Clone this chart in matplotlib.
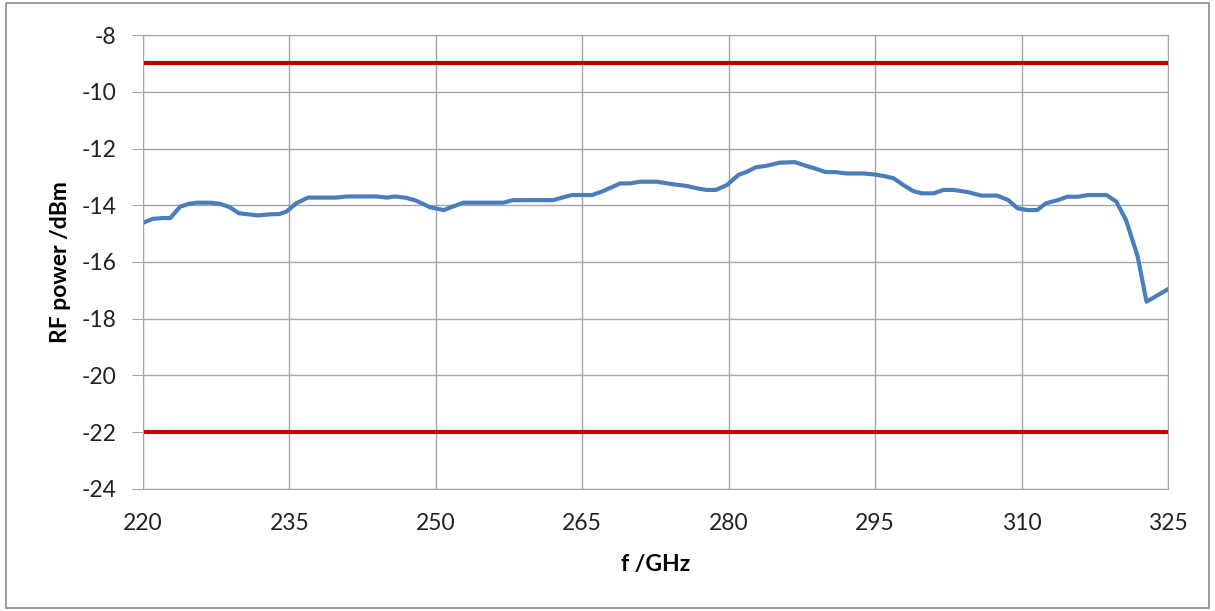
import matplotlib
matplotlib.use("Agg")
import matplotlib.pyplot as plt
from matplotlib.patches import Rectangle

freq = [220.0, 221.0, 222.0, 222.8, 223.8, 224.7, 225.5, 226.9, 227.9, 228.9,
        229.8, 231.8, 233.0, 234.0, 234.7, 235.7, 236.9, 239.8, 240.9, 243.9,
        245.0, 245.8, 247.0, 248.0, 249.4, 250.8, 252.8, 256.9, 257.9, 262.0,
        263.9, 266.0, 267.0, 268.9, 269.9, 270.9, 272.6, 274.3, 275.7, 276.7,
        277.7, 278.7, 279.8, 281.0, 281.8, 282.8, 284.0, 285.2, 286.8, 288.0,
        288.8, 289.9, 290.9, 292.1, 293.8, 294.8, 295.9, 296.9, 297.9, 298.9,
        299.8, 301.0, 302.0, 303.0, 304.4, 305.9, 307.5, 308.6, 309.6, 310.6,
        311.6, 312.5, 313.7, 314.7, 315.8, 316.8, 318.7, 319.7, 320.7, 321.9,
        322.8, 325.0]
power = [-14.62, -14.48, -14.45, -14.45, -14.05, -13.95, -13.91, -13.91, -13.95, -14.07,
         -14.28, -14.36, -14.32, -14.31, -14.22, -13.93, -13.73, -13.73, -13.69, -13.69,
         -13.73, -13.69, -13.74, -13.84, -14.07, -14.17, -13.91, -13.91, -13.82, -13.82,
         -13.64, -13.64, -13.52, -13.23, -13.23, -13.17, -13.17, -13.26, -13.32, -13.40,
         -13.46, -13.46, -13.29, -12.93, -12.83, -12.66, -12.60, -12.50, -12.48, -12.62,
         -12.70, -12.83, -12.83, -12.88, -12.88, -12.91, -12.97, -13.05, -13.29, -13.50,
         -13.58, -13.58, -13.46, -13.46, -13.53, -13.66, -13.66, -13.81, -14.11, -14.17,
         -14.17, -13.93, -13.82, -13.70, -13.70, -13.64, -13.64, -13.87, -14.52, -15.81,
         -17.40, -16.96]

# spec limits
upper_limit = -9
lower_limit = -22

xticks = [220, 235, 250, 265, 280, 295, 310, 325]
yticks = [-24, -22, -20, -18, -16, -14, -12, -10, -8]

plt.rcParams['font.family'] = ['Lato', 'DejaVu Sans']

fig = plt.figure(figsize=(12.15, 6.11), dpi=100)
fig.patches.append(Rectangle((0.005, 0.005), 0.99, 0.99, transform=fig.transFigure,
                             fill=False, edgecolor='#8c8c8c', linewidth=1.2))

ax = fig.add_axes([0.1177, 0.1997, 0.8436, 0.743])

ax.axhline(upper_limit, color='#C00000', linewidth=3)
ax.axhline(lower_limit, color='#C00000', linewidth=3)
ax.plot(freq, power, color='#4A7EBB', linewidth=3, solid_joinstyle='round')

ax.set_xlim(220, 325)
ax.set_ylim(-24, -8)
ax.set_xticks(xticks)
ax.set_yticks(yticks)
ax.set_yticklabels([str(v) for v in yticks])
ax.grid(True, color='#a6a6a6', linewidth=1)
ax.set_axisbelow(True)
for s in ax.spines.values():
    s.set_color('#a6a6a6')
ax.tick_params(axis='both', labelsize=16.5, colors='#a6a6a6', labelcolor='#222222')
ax.tick_params(axis='y', length=8, pad=11)
ax.tick_params(axis='x', length=0, pad=17)

ax.set_xlabel('f /GHz', fontsize=16.5, fontweight='bold', labelpad=15)
ax.set_ylabel('RF power /dBm', fontsize=16.5, fontweight='bold', labelpad=8)

plt.savefig('out.png', dpi=100)
